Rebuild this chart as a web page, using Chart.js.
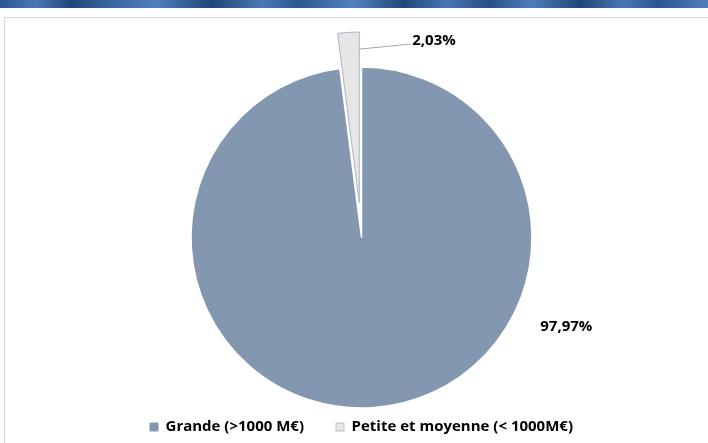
<!DOCTYPE html>
<html>
<head>
<meta charset="utf-8">
<script src="https://cdn.jsdelivr.net/npm/chart.js@4"></script>
<style>
  html, body { margin: 0; padding: 0; background: #ffffff; }
  body { width: 708px; height: 443px; position: relative; overflow: hidden; }
  #band { position: absolute; left: 0; top: 0; width: 708px; height: 8px;
    background: linear-gradient(90deg, #2a5590 0%, #4a78b3 5%, #1f477c 10%, #3f6ca6 17%, #4f7fbb 22%, #1e4679 30%, #4b79b4 37%, #2c578f 42%, #5282bc 50%, #1f477c 57%, #4876b0 63%, #284f86 69%, #4f7fbb 75%, #1e4679 82%, #4a78b3 88%, #2a5590 93%, #4f7fbb 100%); }
  #frame { position: absolute; left: 4px; top: 17px; width: 720px; height: 440px;
    border-left: 1px solid #d9d9d9; border-top: 1px solid #d9d9d9; }
  #wrap { position: absolute; left: 0; top: 0; width: 708px; height: 443px; }
</style>
</head>
<body>
<div id="band"></div>
<div id="frame"></div>
<div id="wrap"><canvas id="c" width="708" height="443"></canvas></div>
<script>
const categories = ['Grande (>1000 M€)', 'Petite et moyenne (< 1000M€)'];
const shares = [97.97, 2.03];
const valueLabels = ['97,97%', '2,03%'];

const EXPLODE = 35; // px pull-out of the small slice
const FONT = '"Open Sans", "Liberation Sans", sans-serif';

const explodePlugin = {
  id: 'explode',
  beforeDatasetsDraw(chart) {
    const arc = chart.getDatasetMeta(0).data[1];
    if (arc && !arc._exploded) {
      const orig = arc.draw;
      arc.draw = function (ctx, area) {
        const mid = (this.startAngle + this.endAngle) / 2;
        ctx.save();
        ctx.translate(Math.cos(mid) * EXPLODE, Math.sin(mid) * EXPLODE);
        orig.call(this, ctx, area);
        ctx.restore();
      };
      arc._exploded = true;
    }
  }
};

const labelPlugin = {
  id: 'pieLabels',
  afterDatasetsDraw(chart) {
    const ctx = chart.ctx;
    const meta = chart.getDatasetMeta(0);
    ctx.save();
    ctx.font = 'bold 15px ' + FONT;
    ctx.fillStyle = '#000000';
    ctx.textBaseline = 'middle';
    const a0 = meta.data[0];
    const ang0 = 23.5 * Math.PI / 180;
    const r0 = a0.outerRadius * 1.31;
    ctx.textAlign = 'center';
    ctx.fillText(valueLabels[0], a0.x + Math.cos(ang0) * r0, a0.y + Math.sin(ang0) * r0);
    const a1 = meta.data[1];
    const mid = (a1.startAngle + a1.endAngle) / 2;
    const ox = a1.x + Math.cos(mid) * EXPLODE;
    const oy = a1.y + Math.sin(mid) * EXPLODE;
    const ax = ox + Math.cos(a1.endAngle) * a1.outerRadius * 0.9;
    const ay = oy + Math.sin(a1.endAngle) * a1.outerRadius * 0.9;
    ctx.strokeStyle = '#a6a6a6';
    ctx.lineWidth = 1;
    ctx.beginPath();
    ctx.moveTo(ax, ay);
    ctx.lineTo(ax + 51, ay - 5);
    ctx.stroke();
    ctx.textAlign = 'left';
    ctx.fillText(valueLabels[1], ax + 53, ay - 8);
    ctx.restore();
  }
};

new Chart(document.getElementById('c'), {
  type: 'pie',
  data: {
    labels: categories,
    datasets: [{
      data: shares,
      backgroundColor: ['#8497b0', '#e7e6e6'],
      borderColor: ['#ffffff', '#a9b5c7'],
      borderWidth: [1.5, 1],
      radius: 170.5
    }]
  },
  options: {
    responsive: false,
    animation: false,
    layout: { padding: { left: 15, right: 0, top: 87.5, bottom: -1.5 } },
    plugins: {
      tooltip: { enabled: false },
      legend: {
        position: 'bottom',
        labels: {
          boxWidth: 8, boxHeight: 8, padding: 32,
          color: '#000000',
          font: { family: FONT, size: 15, weight: 'bold' },
          generateLabels(chart) {
            const ds = chart.data.datasets[0];
            return chart.data.labels.map((l, i) => ({
              text: l,
              fillStyle: ds.backgroundColor[i],
              strokeStyle: i === 0 ? ds.backgroundColor[i] : '#bfbfbf',
              lineWidth: 1,
              index: i,
              hidden: false
            }));
          }
        }
      }
    }
  },
  plugins: [explodePlugin, labelPlugin]
});
</script>
</body>
</html>
